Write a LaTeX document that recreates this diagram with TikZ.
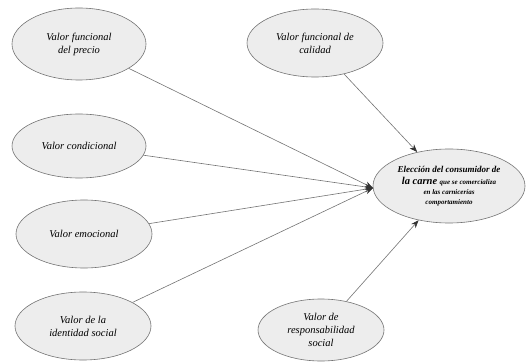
\documentclass[tikz,border=0pt]{standalone}
\usepackage{fontspec}
\setmainfont{Liberation Serif}
\usetikzlibrary{arrows.meta,shapes.geometric}
\begin{document}
\begin{tikzpicture}[x=1pt,y=-1pt,
  oval/.style={ellipse,draw=black!55,fill=black!7,line width=0.6pt,inner sep=0pt,
     font=\fontsize{10.5}{13}\selectfont\itshape,align=center},
  conn/.style={draw=black!55,line width=0.6pt,-{Stealth[length=8pt,width=6pt,color=black!80]}}]
\useasboundingbox (0,0) rectangle (529,363);
\newcommand{\ov}[6]{\node[oval,minimum width=#3,minimum height=#4] (#5) at (#1,#2) {#6};}
\ov{79}{44}{134}{72}{precio}{Valor funcional\\del precio}
\ov{315}{43}{136}{68}{calidad}{Valor funcional de\\calidad}
\ov{79}{146}{134}{64}{condicional}{Valor condicional}
\ov{84}{234}{136}{68}{emocional}{Valor emocional}
\ov{83}{326}{136}{68}{identidad}{Valor de la\\identidad social}
\ov{321}{330}{126}{62}{responsab}{Valor de\\responsabilidad\\social}
\node[oval,minimum width=152,minimum height=74,font=\bfseries\itshape] (eleccion) at (449,186)
  {\fontsize{9}{10}\selectfont Elección del consumidor de\\[0pt]
   {\fontsize{10.5}{11}\selectfont la carne} {\fontsize{7}{8}\selectfont que se comercializa}\\[-2pt]
   {\fontsize{7}{8}\selectfont en las carnicerías}\\[-2pt]
   {\fontsize{7}{8}\selectfont comportamiento}};
\coordinate (tip) at (373,188);
\draw[conn] (precio) -- (tip);
\draw[conn] (condicional) -- (tip);
\draw[conn] (emocional) -- (tip);
\draw[conn] (identidad) -- (tip);
\draw[conn] (calidad) -- (eleccion);
\draw[conn] (responsab) -- (eleccion);
\end{tikzpicture}
\end{document}
